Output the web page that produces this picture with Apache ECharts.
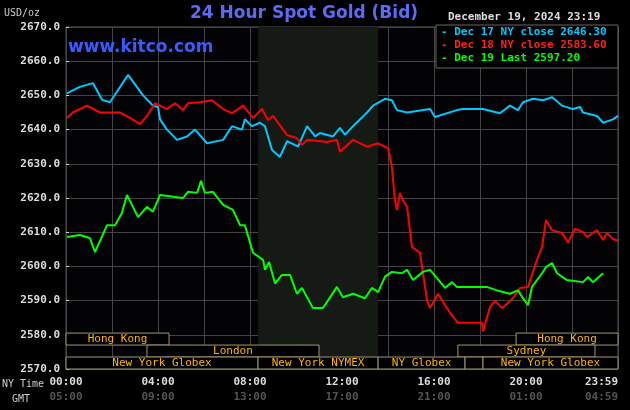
<!DOCTYPE html>
<html><head><meta charset="utf-8">
<script src="https://cdn.jsdelivr.net/npm/echarts@6/dist/echarts.min.js"></script>
<style>html,body{margin:0;padding:0;background:#000}#c{width:630px;height:410px}</style>
</head><body><div id="c"></div>
<script>
// [hour (NY time), price]
const dec17 = [[0.04,2650.6],[0.6,2652.5],[1.17,2653.6],[1.57,2648.7],[1.91,2648],[2.7,2656],[3.35,2650],[3.78,2647],[4.0,2646.6],[4.09,2643],[4.39,2640],[4.83,2637],[5.26,2638],[5.61,2640],[6.13,2636],[6.83,2637],[7.22,2641],[7.65,2640],[7.78,2643],[8.09,2641],[8.43,2642],[8.65,2641],[8.96,2634],[9.3,2632],[9.61,2636.6],[10.09,2635],[10.48,2641],[10.83,2638],[11.04,2639],[11.61,2638],[11.91,2640.5],[12.13,2638.5],[12.48,2641],[13.09,2645],[13.35,2647],[13.87,2649],[14.17,2648.6],[14.39,2645.7],[14.83,2645],[15.83,2646],[16.04,2643.7],[17.0,2645.7],[17.26,2646],[18.13,2646],[18.87,2644.8],[19.3,2647],[19.65,2645.7],[19.87,2648],[20.3,2649],[20.74,2648.6],[21.13,2649.5],[21.57,2647],[22.04,2646],[22.35,2646.6],[22.48,2645],[23.09,2644],[23.35,2642],[23.78,2643],[24.0,2644]];
const dec18 = [[0.04,2643.4],[0.3,2645],[0.91,2647],[1.48,2645],[2.35,2645],[2.78,2643.4],[3.22,2641.6],[3.52,2644],[3.87,2647.7],[4.39,2646],[4.74,2647.7],[5.09,2645.7],[5.3,2647.7],[5.83,2648],[6.35,2648.6],[6.83,2646],[7.22,2644.8],[7.7,2647],[8.13,2643.4],[8.52,2646],[8.78,2642.8],[9.0,2644],[9.61,2638.4],[10.04,2637.5],[10.26,2635.5],[10.48,2637],[11.35,2636.4],[11.78,2637],[11.91,2633.5],[12.48,2637],[13.09,2635],[13.57,2636],[13.65,2636.4],[14.0,2634.6],[14.17,2629],[14.3,2619.4],[14.39,2616.5],[14.52,2621.5],[14.65,2619.4],[14.83,2617.4],[15.04,2605.7],[15.39,2604],[15.52,2598],[15.7,2590],[15.83,2587.8],[16.17,2592],[16.7,2586.4],[17.04,2583.5],[18.09,2583.5],[18.13,2581],[18.43,2588],[18.65,2590],[18.96,2587.8],[19.43,2590.7],[19.74,2593.7],[20.09,2594],[20.48,2602],[20.7,2605.7],[20.87,2613.6],[21.13,2610.6],[21.57,2609.8],[21.83,2607],[22.13,2611],[22.48,2610],[22.65,2608.6],[23.09,2610.6],[23.35,2607.7],[23.52,2609.8],[23.78,2608],[24.0,2607.5]];
const dec19 = [[0.04,2608.6],[0.6,2609.2],[1.04,2608.3],[1.26,2604.2],[1.78,2612],[2.13,2612],[2.43,2615.6],[2.65,2620.9],[2.87,2618],[3.13,2614.4],[3.52,2617.4],[3.78,2616],[4.09,2620.9],[5.09,2620],[5.3,2621.8],[5.7,2621.5],[5.87,2625],[6.04,2621.5],[6.39,2621.8],[6.83,2618],[7.26,2616.5],[7.57,2612],[7.78,2612],[8.13,2604],[8.57,2601.9],[8.65,2599],[8.83,2601.3],[9.09,2595],[9.39,2597.5],[9.74,2597.5],[10.04,2592],[10.26,2593.7],[10.74,2587.8],[11.17,2587.8],[11.78,2594],[12.04,2591],[12.48,2592],[13.0,2590.7],[13.3,2593.7],[13.57,2592.5],[13.87,2597],[14.17,2598.4],[14.6,2598],[14.83,2599],[15.09,2596],[15.52,2598.4],[15.83,2599],[16.13,2596.6],[16.48,2593.7],[16.78,2595.4],[17.0,2594],[18.3,2594],[18.74,2593],[19.0,2592.5],[19.3,2592],[19.65,2593],[19.87,2590.7],[20.09,2588.7],[20.26,2594],[20.7,2598],[20.87,2599.8],[21.13,2601],[21.35,2598],[21.78,2596],[22.48,2595.4],[22.7,2596.9],[22.91,2595.4],[23.35,2598]];
// sessions: [start hour, end hour, row (0 top), label]
const sessions = [[0,4.48,0,'Hong Kong'],[19.57,24,0,'Hong Kong'],[3.52,11.0,1,'London'],[17.04,23.0,1,'Sydney'],[0,8.35,2,'New York Globex'],[8.35,13.57,2,'New York NYMEX'],[13.57,17.35,2,'NY Globex'],[17.35,18.13,2,''],[18.13,24,2,'New York Globex']];
const nyTicks = ['00:00','04:00','08:00','12:00','16:00','20:00','23:59'];
const gmtTicks = ['05:00','09:00','13:00','17:00','21:00','01:00','04:59'];
const legendItems = [['- Dec 17 NY close 2646.30','#00c8ff'],['- Dec 18 NY close 2583.60','#ff2020'],['- Dec 19 Last 2597.20','#00ff00']];

const rowBands = [[2577,2580.5],[2573.5,2577],[2570,2573.5]];
const mono = 'DejaVu Sans Mono';
const chart = echarts.init(document.getElementById('c'));
const lineS = (d,c)=>({type:'line',data:d,showSymbol:false,symbol:'none',lineStyle:{color:c,width:2},itemStyle:{color:c},z:5,animation:false});
chart.setOption({
  backgroundColor:'#000',
  animation:false,
  grid:{left:66,right:12,top:27,bottom:41,outerBoundsMode:'none',containLabel:false,backgroundColor:'#030306',show:true,borderColor:'#555',borderWidth:1},
  xAxis:{type:'value',min:0,max:24,interval:2,
    axisLine:{show:false},axisTick:{show:false},
    splitLine:{lineStyle:{color:'#444',width:1}},
    axisLabel:{margin:6,fontFamily:mono,alignMaxLabel:'right',formatter:v=>{if(v%4!==0)return '';const i=v/4;return '{a|'+nyTicks[i]+'}\n{b|'+gmtTicks[i]+'}';},
      rich:{a:{color:'#ddd',fontWeight:'bold',fontSize:11,fontFamily:mono,lineHeight:15},b:{color:'#555',fontWeight:'bold',fontSize:11,fontFamily:mono,lineHeight:15}}}},
  yAxis:{type:'value',min:2570,max:2670,interval:10,
    axisLine:{show:false},axisTick:{show:true,length:3,inside:true,lineStyle:{color:'#ccc'}},
    splitLine:{lineStyle:{color:'#444',width:1}},
    axisLabel:{color:'#ddd',fontWeight:'bold',fontSize:11,fontFamily:mono,margin:6,formatter:v=>v.toFixed(1)}},
  series:[
    {type:'line',data:[],markArea:{silent:true,itemStyle:{color:'#151a15'},data:[[{xAxis:8.35},{xAxis:13.57}]]},z:1},
    lineS(dec17,'#00c8ff'),lineS(dec18,'#ff0000'),lineS(dec19,'#00ff00'),
    {type:'custom',z:10,data:sessions,renderItem:(p,api)=>{
      const s=api.value(0),e=api.value(1),r=api.value(2);const b=rowBands[r];
      const p1=api.coord([s,b[1]]),p2=api.coord([e,b[0]]);
      const lab=sessions[p.dataIndex][3];
      return {type:'group',children:[
        {type:'rect',shape:{x:p1[0],y:p1[1],width:p2[0]-p1[0],height:p2[1]-p1[1]},style:{fill:'#000',stroke:'#a09870',lineWidth:1}},
        {type:'text',style:{text:lab,x:(p1[0]+p2[0])/2,y:(p1[1]+p2[1])/2,align:'center',verticalAlign:'middle',fill:'#ffb400',font:'11px "DejaVu Sans Mono"'}}]};
    }}
  ],
  graphic:[
    {type:'text',left:4,top:8,style:{text:'USD/oz',fill:'#ccc',font:'10px "DejaVu Sans Mono"'}},
    {type:'text',left:190,top:5,style:{text:'24 Hour Spot Gold (Bid)',fill:'#5a6cf5',font:'bold 17px "DejaVu Sans"'}},
    {type:'text',left:68,top:39,z:20,style:{text:'www.kitco.com',fill:'#3a5cff',font:'bold 17px "DejaVu Sans"'}},
    {type:'text',left:448,top:12,style:{text:'December 19, 2024 23:19',fill:'#ddd',font:'bold 11px "DejaVu Sans Mono"'}},
    {type:'rect',z:20,shape:{x:436,y:25,width:182,height:43},style:{fill:'#000',stroke:'#666',lineWidth:1}},
    ...legendItems.map((l,i)=>({type:'text',z:21,left:441,top:27+i*13,style:{text:l[0],fill:l[1],font:'bold 11px "DejaVu Sans Mono"'}})),
    {type:'text',left:2,top:379,style:{text:'NY Time',fill:'#ccc',font:'10px "DejaVu Sans Mono"'}},
    {type:'text',left:12,top:394,style:{text:'GMT',fill:'#ccc',font:'10px "DejaVu Sans Mono"'}}
  ]
});
</script></body></html>
